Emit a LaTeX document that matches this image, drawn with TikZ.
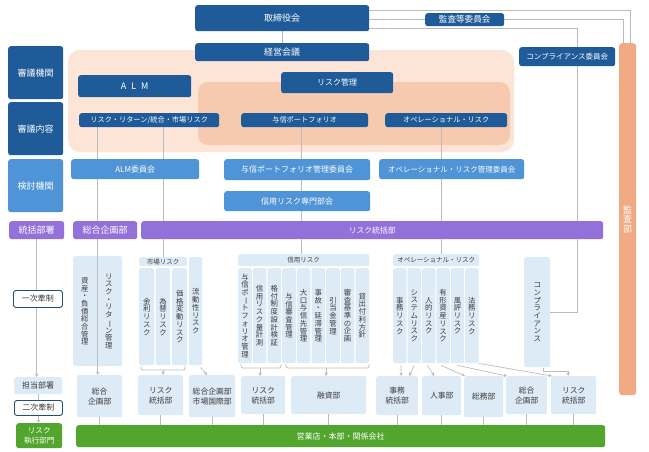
\documentclass[tikz,border=0pt]{standalone}
\usepackage{fontspec}
\setmainfont{Noto Sans CJK JP}
\usepackage{graphicx}
\usetikzlibrary{arrows.meta, positioning, calc}
\definecolor{dkblue}{RGB}{31,91,153}
\definecolor{mdblue}{RGB}{79,148,214}
\definecolor{ppl}{RGB}{148,112,218}
\definecolor{peach}{RGB}{252,229,215}
\definecolor{peachdk}{RGB}{247,201,174}
\definecolor{orng}{RGB}{242,170,132}
\definecolor{ltblue}{RGB}{221,235,247}
\definecolor{grn}{RGB}{82,166,46}
\definecolor{lncol}{RGB}{188,188,188}
\definecolor{txtgray}{RGB}{60,60,60}
\definecolor{frame}{RGB}{31,78,121}

% vertical (tategaki) text: one character per line
\def\vtloop#1{\ifx#1\relax\else\vtchar{#1}\expandafter\vtloop\fi}
\newcommand\vtchar[1]{\hbox to 1em{\hss\ifx#1ー\rotatebox[origin=c]{-90}{ー}\else#1\fi\hss}}
\newcommand\vtext[2][7.7]{\vbox{\baselineskip=#1pt\lineskiplimit=-20pt\lineskip=0pt\vtloop#2\relax}}

\pgfdeclarelayer{back}
\pgfdeclarelayer{lines}
\pgfsetlayers{back,lines,main}

\tikzset{
  sz/.style 2 args={minimum width=#1pt, minimum height=#2pt},
  base/.style={rectangle, rounded corners=2.5pt, inner sep=0pt, anchor=north west, align=center},
  dkbox/.style={base, fill=dkblue, text=white, font=\fontsize{7.2}{8}\selectfont},
  mdbox/.style={base, fill=mdblue, text=white, font=\fontsize{8}{9}\selectfont},
  ppbox/.style={base, fill=ppl, text=white, font=\fontsize{8}{9}\selectfont},
  orbox/.style={base, rounded corners=3pt, fill=orng, text=white, font=\fontsize{9}{10}\selectfont},
  ltbox/.style={base, rounded corners=2pt, fill=ltblue, text=txtgray, font=\fontsize{7.8}{10}\selectfont},
  colbox/.style={ltbox, font=\fontsize{7.4}{7.7}\selectfont},
  coltxt/.style={inner sep=0pt, text=txtgray, font=\fontsize{7.4}{7.7}\selectfont},
  hdr/.style={ltbox, font=\fontsize{6.5}{7}\selectfont},
  gnbox/.style={base, fill=grn, text=white, font=\fontsize{8}{10}\selectfont},
  wtbox/.style={base, fill=white, draw=frame, line width=0.9pt, text=txtgray, font=\fontsize{8}{9}\selectfont},
  big/.style={font=\fontsize{9}{10}\selectfont},
  link/.style={draw=lncol, line width=0.7pt},
  arr/.style={link, -{Stealth[length=3.5pt,width=3.6pt]}},
}

\begin{document}
\begin{tikzpicture}[x=1pt, y=-1pt]
  \useasboundingbox (0,0) rectangle (649,451);

  % row labels
  \node[dkbox, big, sz={55}{53}] (lbl1) at (8,46)  {審議機関};
  \node[dkbox, big, sz={55}{53}] (lbl2) at (8,102) {審議内容};
  \node[mdbox, big, sz={55}{53}] (lbl3) at (8,159) {検討機関};
  \node[ppbox, big, sz={55}{18}] (lbl4) at (9,221) {統括部署};

  % board level
  \node[dkbox, big, sz={174}{26}] (board) at (195,5)  {取締役会};
  \node[dkbox, big, sz={174}{18}] (mgmt)  at (195,43) {経営会議};
  \node[dkbox, font=\fontsize{8.6}{9}\selectfont, sz={79}{13}] (audc) at (425,13) {監査等委員会};
  \node[dkbox, font=\fontsize{7.5}{8}\selectfont, sz={96}{19}] (compc) at (519,47) {コンプライアンス委員会};
  \node[orbox, sz={17}{352}] (audit) at (619,43) {\vtext[9.6]{監査部}};

  % deliberation
  \node[dkbox, big, sz={113}{22}] (alm) at (78,75)  {A\hspace{5pt}L\hspace{5pt}M};
  \node[dkbox, font=\fontsize{8}{9}\selectfont, sz={112}{21}] (rkm) at (281,72) {リスク管理};
  \node[dkbox, sz={140}{14}] (rr) at (79,113)  {リスク・リターン/統合・市場リスク};
  \node[dkbox, sz={127}{14}] (cp) at (241,113) {与信ポートフォリオ};
  \node[dkbox, sz={122}{14}] (op) at (385,113) {オペレーショナル・リスク};

  % committees
  \node[mdbox, sz={128}{20}] (almc) at (71,159)  {ALM委員会};
  \node[mdbox, sz={146}{21}] (cpc)  at (224,159) {与信ポートフォリオ管理委員会};
  \node[mdbox, font=\fontsize{7.5}{8}\selectfont, sz={145}{20}] (opc) at (379,159) {オペレーショナル・リスク管理委員会};
  \node[mdbox, sz={146}{20}] (crc)  at (224,191) {信用リスク専門部会};

  % supervising departments
  \node[ppbox, big, sz={64}{18}] (plan) at (73,221) {総合企画部};
  \node[ppbox, font=\fontsize{7.8}{9}\selectfont, sz={462}{18}] (rmd) at (141,221) {リスク統括部};

  % left column
  \node[wtbox, sz={49}{17}] (ctl1)  at (13,290) {一次牽制};
  \node[ltbox, font=\fontsize{8}{9}\selectfont, sz={48}{17}] (tanto) at (14,377) {担当部署};
  \node[wtbox, sz={48}{15}] (ctl2)  at (14,400) {二次牽制};
  \node[gnbox, font=\fontsize{7.6}{10}\selectfont, sz={46}{25}] (exec) at (16,423) {リスク\\執行部門};
  \node[gnbox, sz={529}{22}] (branch) at (76,425) {営業店・本部・関係会社};

  % ALM columns
  \node[ltbox, sz={49}{110}] (alcol) at (73,256) {};
  \node[coltxt] (al1) at ([xshift=-13pt]alcol.center) {\vtext{資産・負債総合管理}};
  \node[coltxt] (al2) at ([xshift=11pt]alcol.center)  {\vtext{リスク・リターン管理}};

  % market risk
  \node[hdr, sz={48}{9}]     (mkh) at (139,257) {市場リスク};
  \node[colbox, sz={15}{97}]  (m1)  at (139,268) {\vtext{金利リスク}};
  \node[colbox, sz={14.5}{97}] (m2) at (155.5,268) {\vtext{為替リスク}};
  \node[colbox, sz={15}{97}]  (m3)  at (172,268) {\vtext{価格変動リスク}};
  \node[colbox, sz={13}{108}] (liq) at (189,257) {\vtext{流動性リスク}};

  % credit risk
  \node[hdr, sz={131}{12}]     (crh) at (238,254)    {信用リスク};
  \node[colbox, sz={13.6}{95}] (c1)  at (238,268)    {\vtext{与信ポートフォリオ管理}};
  \node[colbox, sz={13.6}{95}] (c2)  at (252.67,268) {\vtext{信用リスク量計測}};
  \node[colbox, sz={13.6}{95}] (c3)  at (267.33,268) {\vtext{格付制度設計検証}};
  \node[colbox, sz={13.6}{95}] (c4)  at (282,268)    {\vtext{与信審査管理}};
  \node[colbox, sz={13.6}{95}] (c5)  at (296.67,268) {\vtext{大口与信先管理}};
  \node[colbox, sz={13.6}{95}] (c6)  at (311.33,268) {\vtext{事故・延滞管理}};
  \node[colbox, sz={13.6}{95}] (c7)  at (326,268)    {\vtext{引当金管理}};
  \node[colbox, sz={13.6}{95}] (c8)  at (340.67,268) {\vtext{審査基準の企画}};
  \node[colbox, sz={13.6}{95}] (c9)  at (355.33,268) {\vtext{貸出付利方針}};

  % operational risk
  \node[hdr, sz={86}{12}]      (oph) at (393,254)   {オペレーショナル・リスク};
  \node[colbox, sz={13.4}{95}] (o1)  at (393,268)   {\vtext{事務リスク}};
  \node[colbox, sz={13.4}{95}] (o2)  at (407.4,268) {\vtext{システムリスク}};
  \node[colbox, sz={13.4}{95}] (o3)  at (421.8,268) {\vtext{人的リスク}};
  \node[colbox, sz={13.4}{95}] (o4)  at (436.2,268) {\vtext{有形資産リスク}};
  \node[colbox, sz={13.4}{95}] (o5)  at (450.6,268) {\vtext{風評リスク}};
  \node[colbox, sz={13.4}{95}] (o6)  at (465,268)   {\vtext{法務リスク}};

  % compliance
  \node[colbox, sz={26}{110}] (comp) at (524,257) {\vtext{コンプライアンス}};

  % second-line departments
  \node[ltbox, sz={45}{42}] (b1)  at (77,375)  {総合\\企画部};
  \node[ltbox, sz={45}{40}] (b2)  at (138,375) {リスク\\統括部};
  \node[ltbox, sz={46}{42}] (b3)  at (189,375) {総合企画部\\市場国際部};
  \node[ltbox, sz={44}{38}] (b4)  at (241,376) {リスク\\統括部};
  \node[ltbox, sz={75}{38}] (b5)  at (291,376) {融資部};
  \node[ltbox, sz={42}{39}] (b6)  at (376,376) {事務\\統括部};
  \node[ltbox, sz={39}{39}] (b7)  at (422,376) {人事部};
  \node[ltbox, sz={39}{41}] (b8)  at (464,376) {総務部};
  \node[ltbox, sz={41}{38}] (b9)  at (506,376) {総合\\企画部};
  \node[ltbox, sz={45}{38}] (b10) at (551,376) {リスク\\統括部};

  \begin{pgfonlayer}{back}
    \fill[peach, rounded corners=12pt] (68,50) rectangle (514,152);
    \fill[peachdk, rounded corners=10pt] (198,82) rectangle (510,145);
  \end{pgfonlayer}

  \coordinate (cmpx) at (577,28);
  \coordinate (opx)  at (441,0);

  \begin{pgfonlayer}{lines}
    \draw[link] (board) -- (mgmt);
    \draw[link] ([yshift=8pt]board.east) -| ([xshift=2.5pt]audit.north);
    \draw[link] (board.east |- audc.west) -- (audc.west);
    \draw[link] (audc.east) -| ([xshift=-4.5pt]audit.north);
    \draw[link] (board.east |- cmpx) -- (cmpx) -- (cmpx |- rmd.north);
    \draw[link] (rr.south -| alcol.north) -- (plan.north -| alcol.north);
    \draw[link] (rr.south -| mkh.north) -- (rmd.north -| mkh.north);
    \draw[link] ([xshift=-2pt]cp.south -| crh.north) -- ([xshift=-2pt]rmd.north -| crh.north);
    \draw[link] (op.south -| opx) -- (rmd.north -| opx);
  \end{pgfonlayer}

  % lines below the supervising departments
  \draw[arr] (plan.south -| alcol.north) -- (b1.north -| alcol.north);
  \draw[link] (rmd.south -| mkh.north) -- (mkh.north);
  \draw[link] ([xshift=-2pt]rmd.south -| crh.north) -- ([xshift=-2pt]crh.north);
  \draw[link] (rmd.south -| opx) -- (oph.north -| opx);
  \draw[link] (rmd.south -| cmpx) |- (comp.east);

  \begin{pgfonlayer}{lines}
    \draw[arr] (lbl4.south) -- (lbl4.south |- tanto.north);
  \end{pgfonlayer}
  \draw[link] (tanto.south) -- (tanto.south |- ctl2.north);
  \draw[arr] (ctl2.south) -- (ctl2.south |- exec.north);

  % braces
  \draw[link, rounded corners=2pt] (141,366) -- (141,370) -- (185,370) -- (185,366);
  \coordinate (mkbr) at (163,370);
  \draw[arr] (mkbr) -- (mkbr |- b2.north);
  \draw[arr] ([xshift=-2pt,yshift=-2pt]liq.south east) -- ([xshift=-5pt]b3.north);
  \draw[link, rounded corners=2pt] (241,364) -- (241,368) -- (281,368) -- (281,364);
  \coordinate (crbr1) at (260,368);
  \draw[arr] (crbr1) -- (crbr1 |- b4.north);
  \draw[link, rounded corners=2pt] (286,364) -- (286,368) -- (369,368) -- (369,364);
  \coordinate (crbr2) at (326,368);
  \draw[arr] (crbr2) -- (crbr2 |- b5.north);

  % operational risk arrows
  \draw[arr] ([xshift=1pt,yshift=-2pt]o1.south) -- ([xshift=4pt]b6.north);
  \draw[arr] ([yshift=-2pt]o2.south) -- ([xshift=12pt]b6.north);
  \draw[arr] ([xshift=-1.5pt,yshift=-2pt]o3.south) -- ([xshift=-7.5pt]b7.north);
  \draw[arr] ([xshift=-2pt,yshift=-2pt]o4.south) -- ([xshift=1pt]b8.north west);
  \draw[arr] ([yshift=-2pt]o5.south) -- ([xshift=1pt]b9.north west);
  \draw[arr] (o6.south east) -- ([xshift=1pt]b10.north west);
  \draw[arr] ([xshift=6pt,yshift=-1pt]comp.south) -- ++(0,3) -| ([xshift=-5.5pt]b10.north);

  % to branches
  \draw[link] (b1.south)  -- (b1.south |- branch.north);
  \draw[link] (b2.south)  -- (b2.south |- branch.north);
  \draw[link] (b3.south)  -- (b3.south |- branch.north);
  \draw[link] (b4.south)  -- (b4.south |- branch.north);
  \draw[link] (b5.south)  -- (b5.south |- branch.north);
  \draw[link] (b6.south)  -- (b6.south |- branch.north);
  \draw[link] (b7.south)  -- (b7.south |- branch.north);
  \draw[link] (b8.south)  -- (b8.south |- branch.north);
  \draw[link] (b9.south)  -- (b9.south |- branch.north);
  \draw[link] (b10.south) -- (b10.south |- branch.north);
\end{tikzpicture}
\end{document}
